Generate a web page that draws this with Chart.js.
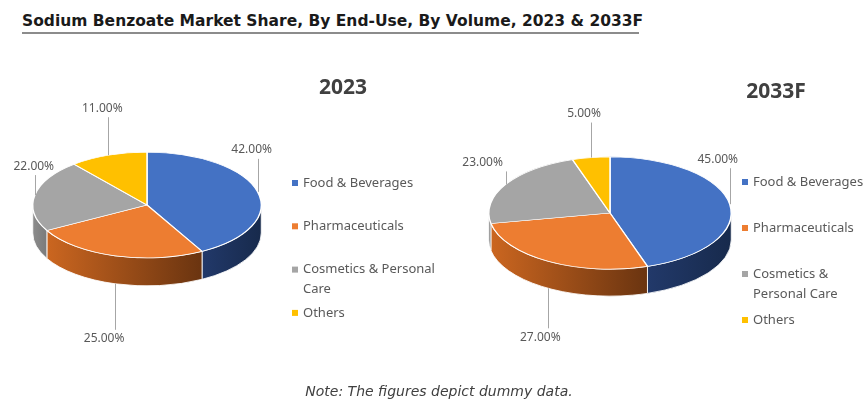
<!DOCTYPE html>
<html>
<head>
<meta charset="utf-8">
<script src="https://cdn.jsdelivr.net/npm/chart.js@4.4.1/dist/chart.umd.min.js"></script>
<style>
  html, body { margin:0; padding:0; background:#ffffff; }
  body { width:866px; height:399px; position:relative; overflow:hidden; }
  #title { position:absolute; left:22px; top:12px; font-family:"DejaVu Sans", Verdana, sans-serif; font-weight:bold; font-size:15.5px; line-height:18px; color:#1a1a1a; white-space:nowrap; }
  #rule { position:absolute; left:22px; top:32px; width:617px; height:2px; background:#8c8c8c; }
  #note { position:absolute; left:0; width:878px; top:383px; line-height:17px; text-align:center; font-family:"DejaVu Sans", Verdana, sans-serif; font-style:italic; font-size:14px; color:#404040; }
  .wrap { position:absolute; top:0; height:399px; }
  .wrap canvas { position:absolute; left:0; top:0; }
</style>
</head>
<body>
<div id="title">Sodium Benzoate Market Share, By End-Use, By Volume, 2023 &amp; 2033F</div>
<div id="rule"></div>
<div class="wrap" style="left:0;width:440px;"><canvas id="c1"></canvas></div>
<div class="wrap" style="left:440px;width:426px;"><canvas id="c2"></canvas></div>
<div id="note">Note: The figures depict dummy data.</div>
<script>
// ---- data ----
const categories = ['Food & Beverages', 'Pharmaceuticals', 'Cosmetics & Personal Care', 'Others'];
const share2023 = [42, 25, 22, 11];
const share2033 = [45, 27, 23, 5];
const legendLines2023 = [['Food & Beverages'], ['Pharmaceuticals'], ['Cosmetics & Personal', 'Care'], ['Others']];
const legendLines2033 = [['Food & Beverages'], ['Pharmaceuticals'], ['Cosmetics &', 'Personal Care'], ['Others']];
const yearLabels = ['2023', '2033F'];

// ---- styles ----
const topColors = ['#4472C4', '#ED7D31', '#A5A5A5', '#FFC000'];
const sideLight = ['#22396a', '#cb6620', '#8c8c8c', '#c49300'];
const sideDark  = ['#172a4c', '#6a3410', '#7a7a7a', '#a07800'];

const pie3d = {
  id: 'pie3d',
  beforeDatasetsDraw(chart, args, opts) {
    const arcs = chart.getDatasetMeta(0).data;
    const ctx = chart.ctx;
    const a0 = arcs[0];
    const cx = a0.x, cy = a0.y, rx = a0.outerRadius;
    const ry = rx * opts.tilt, depth = opts.depth;
    ctx.save();
    arcs.forEach((arc, i) => {
      const a = Math.max(arc.startAngle, 0), b = Math.min(arc.endAngle, Math.PI);
      if (b <= a) return;
      const xl = cx + rx * Math.cos(b), xr = cx + rx * Math.cos(a);
      const g = ctx.createLinearGradient(Math.min(xl, xr), 0, Math.max(xl, xr), 0);
      g.addColorStop(0, sideLight[i]);
      g.addColorStop(1, sideDark[i]);
      ctx.beginPath();
      ctx.ellipse(cx, cy, rx, ry, 0, a, b, false);
      ctx.ellipse(cx, cy + depth, rx, ry, 0, b, a, true);
      ctx.closePath();
      ctx.fillStyle = g;
      ctx.fill();
      ctx.strokeStyle = 'rgba(255,255,255,0.85)';
      ctx.lineWidth = 1;
      ctx.stroke();
    });
    ctx.restore();
    ctx.save();
    ctx.translate(0, cy);
    ctx.scale(1, opts.tilt);
    ctx.translate(0, -cy);
  },
  afterDatasetsDraw(chart) {
    chart.ctx.restore();
  },
  afterDraw(chart, args, opts) {
    const ctx = chart.ctx;
    const arcs = chart.getDatasetMeta(0).data;
    const a0 = arcs[0];
    const cx = a0.x, cy = a0.y, rx = a0.outerRadius;
    const ry = rx * opts.tilt, depth = opts.depth;
    const values = chart.data.datasets[0].data;
    ctx.save();
    // year heading
    ctx.font = 'bold 21px "Noto Sans", "Open Sans", sans-serif';
    ctx.fillStyle = '#404040';
    ctx.textAlign = 'center';
    ctx.textBaseline = 'middle';
    ctx.fillText(opts.year, opts.yearX, opts.yearY);
    // data labels with leader lines
    ctx.font = '12px "Noto Sans", "Open Sans", sans-serif';
    arcs.forEach((arc, i) => {
      const mid = (arc.startAngle + arc.endAngle) / 2;
      let ax = cx + rx * Math.cos(mid);
      let ay = cy + ry * Math.sin(mid);
      const s = Math.sin(mid);
      if (s > 0) ay += depth;
      const off = opts.labelOffsets[i];
      const lx = ax + off[0], ly = ay + off[1];
      ctx.strokeStyle = '#a6a6a6';
      ctx.lineWidth = 1;
      ctx.beginPath();
      const endY = off[1] < 0 ? ly + 9 : ly - 9;
      ctx.moveTo(Math.round(ax) + 0.5, ay);
      ctx.lineTo(Math.round(ax) + 0.5, endY);
      ctx.stroke();
      ctx.fillStyle = '#595959';
      ctx.textAlign = 'center';
      ctx.textBaseline = 'middle';
      ctx.fillText(values[i].toFixed(2) + '%', lx, ly);
    });
    // legend
    ctx.font = '13px "Noto Sans", "Open Sans", sans-serif';
    ctx.textAlign = 'left';
    ctx.textBaseline = 'middle';
    opts.legendLines.forEach((lines, i) => {
      const y = opts.legendY0 + i * opts.legendStep;
      ctx.fillStyle = topColors[i];
      ctx.fillRect(opts.legendX, y - 3, 6, 6);
      ctx.fillStyle = '#595959';
      lines.forEach((t, k) => ctx.fillText(t, opts.legendX + 11, y + k * 20));
    });
    ctx.restore();
  }
};

function makePie(id, values, pad, extra) {
  return new Chart(document.getElementById(id), {
    type: 'pie',
    data: {
      labels: categories,
      datasets: [{ data: values, backgroundColor: topColors, borderColor: '#ffffff', borderWidth: 1.5 }]
    },
    options: {
      responsive: true,
      maintainAspectRatio: false,
      animation: false,
      events: [],
      layout: { padding: pad },
      plugins: {
        legend: { display: false },
        tooltip: { enabled: false },
        pie3d: Object.assign({ tilt: 0.463, depth: 28 }, extra)
      }
    },
    plugins: [pie3d]
  });
}

makePie('c1', share2023, { left: 32, right: 178, top: 90, bottom: 79 }, {
  year: yearLabels[0], yearX: 343, yearY: 88,
  labelOffsets: [[-6, -42], [-11, 55], [-1, -29], [-6, -47]],
  legendLines: legendLines2023, legendX: 292, legendY0: 183, legendStep: 43.3
});
makePie('c2', share2033, { left: 48, right: 134, top: 91, bottom: 64 }, {
  year: yearLabels[1], yearX: 336, yearY: 92,
  labelOffsets: [[-12, -45], [-8, 49], [-23, -22], [-7, -44]],
  legendLines: legendLines2033, legendX: 302, legendY0: 182, legendStep: 46, depth: 27
});
</script>
</body>
</html>
